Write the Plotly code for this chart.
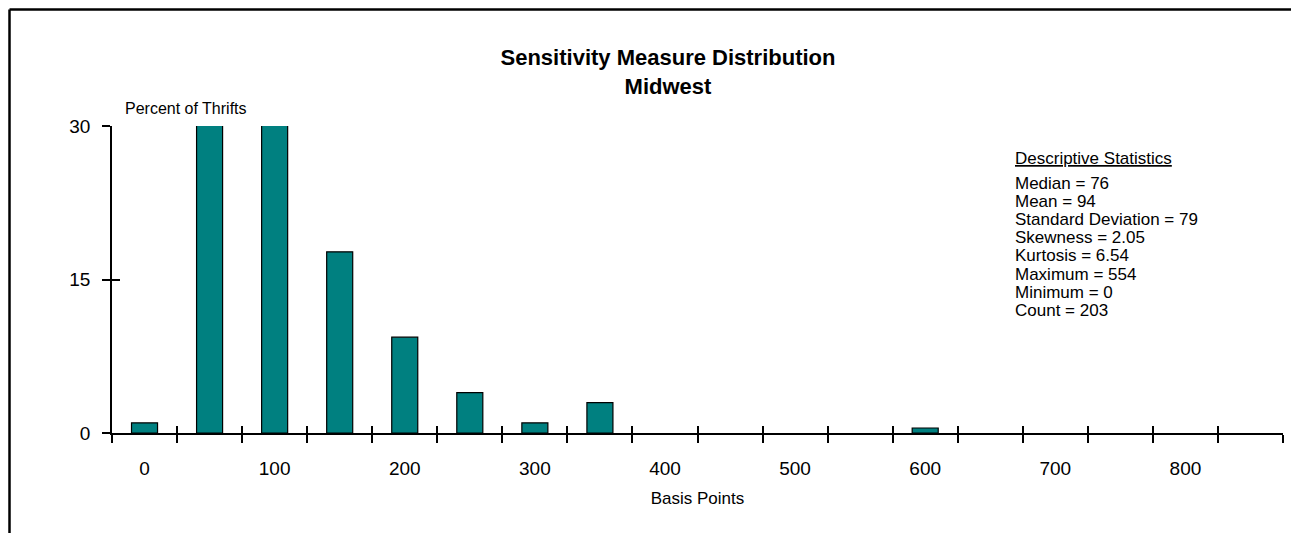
import plotly.graph_objects as go

# histogram bins (basis points) and percent of thrifts
bins = [0, 50, 100, 150, 200, 250, 300, 350, 600]
pct = [0.99, 32.0, 31.5, 17.7, 9.36, 3.94, 0.99, 2.96, 0.49]

x_labels = [0, 100, 200, 300, 400, 500, 600, 700, 800]
bin_edges = [-25 + 50 * i for i in range(19)]
y_ticks = [0, 15, 30]

stats_title = "Descriptive Statistics"
stats = [
    "Median = 76",
    "Mean = 94",
    "Standard Deviation = 79",
    "Skewness = 2.05",
    "Kurtosis = 6.54",
    "Maximum = 554",
    "Minimum = 0",
    "Count = 203",
]

FONT = "Arial, Liberation Sans, sans-serif"
# the page body adds an 8px offset, so the figure is a bit smaller than the window
OFF = 8
W, H = 1299 - OFF, 533 - OFF
L, R, T, B = 112 - OFF, 16, 126 - OFF, 100
PW, PH = W - L - R, H - T - B


# page pixel -> paper coordinates
def px(x):
    return (x - OFF - L) / PW


def py(y):
    return (H - B - (y - OFF)) / PH


fig = go.Figure()

fig.add_trace(go.Bar(
    x=bins, y=pct, width=20,
    marker=dict(color="#008080", line=dict(color="black", width=1.2)),
    showlegend=False, hoverinfo="x+y",
))
# empty trace so the overlay axes (inner half of the crossing ticks) get drawn
fig.add_trace(go.Scatter(x=[None], y=[None], xaxis="x2", yaxis="y2",
                         showlegend=False, hoverinfo="skip"))

fig.update_layout(
    width=W, height=H,
    margin=dict(l=L, r=R, t=T, b=B),
    paper_bgcolor="white", plot_bgcolor="white",
    font=dict(family=FONT, color="black"),
    title=dict(
        text="<b>Sensitivity Measure Distribution<br>Midwest</b>",
        x=(668 - OFF) / W, xanchor="center", y=1 - 57 / H, yanchor="top",
        font=dict(size=22, family=FONT, color="black"),
    ),
    xaxis=dict(
        range=[-25, 875], showgrid=False, zeroline=False,
        showline=True, linecolor="black", linewidth=1.5,
        tickvals=x_labels, ticks="outside", ticklen=17,
        tickcolor="rgba(0,0,0,0)",
        tickfont=dict(size=19, family=FONT),
        minor=dict(tickvals=bin_edges, ticks="outside", ticklen=8,
                   tickcolor="black", tickwidth=1.5, showgrid=False),
        title=dict(text="Basis Points", font=dict(size=17, family=FONT), standoff=15),
    ),
    yaxis=dict(
        range=[0, 30], showgrid=False, zeroline=False,
        showline=True, linecolor="black", linewidth=1.5,
        tickvals=y_ticks, ticks="outside", ticklen=8,
        tickcolor="black", tickwidth=1.5,
        ticklabelstandoff=8,
        tickfont=dict(size=19, family=FONT),
    ),
    xaxis2=dict(
        overlaying="x", matches="x", range=[-25, 875], side="bottom",
        showgrid=False, zeroline=False, showline=False,
        tickvals=bin_edges, ticks="inside", ticklen=7,
        tickcolor="black", tickwidth=1.5, showticklabels=False,
    ),
    yaxis2=dict(
        overlaying="y", matches="y", range=[0, 30], side="left",
        showgrid=False, zeroline=False, showline=False,
        tickvals=y_ticks, ticks="inside", ticklen=8,
        tickcolor="black", tickwidth=1.5, showticklabels=False,
    ),
)

fig.add_annotation(
    text="Percent of Thrifts", xref="paper", yref="paper",
    x=px(123), y=py(108), xanchor="left", yanchor="middle",
    showarrow=False, font=dict(size=16, family=FONT),
)

fig.add_annotation(
    text="<u>" + stats_title + "</u>", xref="paper", yref="paper",
    x=px(1013), y=py(158), xanchor="left", yanchor="middle",
    showarrow=False, font=dict(size=17, family=FONT),
)
for i, line in enumerate(stats):
    fig.add_annotation(
        text=line, xref="paper", yref="paper",
        x=px(1013), y=py(183 + 18.2 * i), xanchor="left", yanchor="middle",
        showarrow=False, font=dict(size=17, family=FONT),
    )

# outer frame (only top and left edges fall inside the picture)
fig.add_shape(type="line", xref="paper", yref="paper",
              x0=px(9.5), y0=py(9.5), x1=px(1299), y1=py(9.5),
              line=dict(color="black", width=2.5))
fig.add_shape(type="line", xref="paper", yref="paper",
              x0=px(9.5), y0=py(9.5), x1=px(9.5), y1=py(540),
              line=dict(color="black", width=2.5))

fig.write_html("out.html")
